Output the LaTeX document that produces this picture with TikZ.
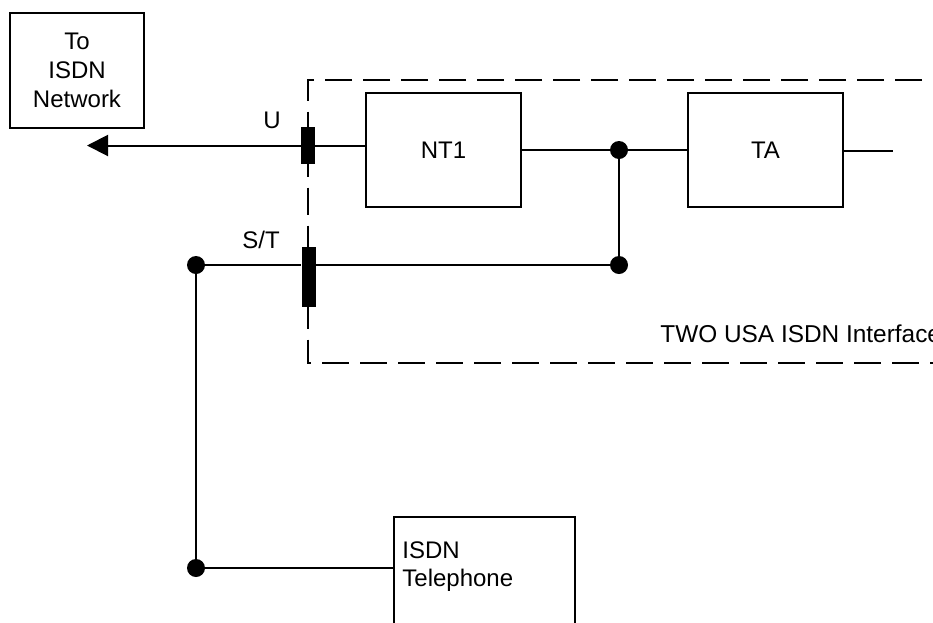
\documentclass[tikz,border=0pt]{standalone}
\usepackage{fontspec}
\setmainfont{Liberation Sans}
\usepackage{tikz}
\usetikzlibrary{positioning,arrows.meta,calc}
\tikzset{
  >={Triangle[length=10.5pt,width=10.5pt]},
  lbl/.style={font=\fontsize{12}{14.4}\selectfont,inner sep=0pt},
  unitbox/.style={draw,line width=1pt,minimum width=77.5pt,minimum height=57pt,
    inner sep=0pt,font=\fontsize{12}{14.4}\selectfont},
  plainbox/.style={draw,line width=1pt,inner sep=0pt},
  refbar/.style={fill=black,draw=none,inner sep=0pt,minimum width=7pt},
  jdot/.style={circle,fill=black,inner sep=0pt,minimum size=9pt},
  wire/.style={line width=1pt},
  flow/.style={->,line width=1pt},
  dashbox/.style={line width=1pt,dash pattern=on 13.5pt off 5.5pt},
}
\begin{document}
\begin{tikzpicture}[x=0.5pt,y=-0.5pt]
  \clip (0,0) rectangle (933,622);
  % interface boundary
  \draw[dashbox] (960,80) -- (307.5,80) -- (307.5,363) -- (960,363);
  \node[lbl,anchor=base west,font=\fontsize{12.2}{14.4}\selectfont]
    (ifc) at (660,342) {TWO USA ISDN Interface};
  % boxes
  \node[plainbox,minimum width=67pt,minimum height=57.5pt,lbl,align=center]
    (net) at (77,70.5) {To\\ISDN\\Network};
  \node[unitbox] (nt1) at (443.5,150) {NT1};
  \node[unitbox] (ta) at (765.5,150) {TA};
  \node[plainbox,minimum width=90.5pt,minimum height=81.5pt] (tel) at (484.5,598.5) {};
  \node[lbl,align=left,anchor=north west] (tellbl) at ($(tel.north west)+(9,25)$)
    {ISDN\\Telephone};
  % reference points
  \node[refbar,minimum height=18.5pt] (ubar) at (308,145.5) {};
  \node[refbar,minimum height=30pt] (stbar) at (308.5,277) {};
  \node[lbl] (ulbl) at (272,120) {U};
  \node[lbl] (stlbl) at (261,240) {S/T};
  % junctions
  \node[jdot] (j1) at (619,150) {};
  \node[jdot] (j2) at (619,265) {};
  \node[jdot] (j3) at (196,265) {};
  \node[jdot] (j4) at (196,568) {};
  \coordinate (tip) at (87,145.5);
  \coordinate (taout) at (893,151);
  % wiring
  \draw[flow] (ubar.west) -- (tip);
  \draw[wire] (ubar.east) -- (ubar.east -| nt1.west);
  \draw[wire] (nt1.east) -- (j1) -- (ta.west);
  \draw[wire] (ta.east |- taout) -- (taout);
  \draw[wire] (j1) -- (j2);
  \draw[wire] (stbar.east |- j2) -- (j2);
  \draw[wire] (j3) -- (stbar.west |- j3);
  \draw[wire] (j3) -- (j4);
  \draw[wire] (j4) -- (j4 -| tel.west);
\end{tikzpicture}
\end{document}
